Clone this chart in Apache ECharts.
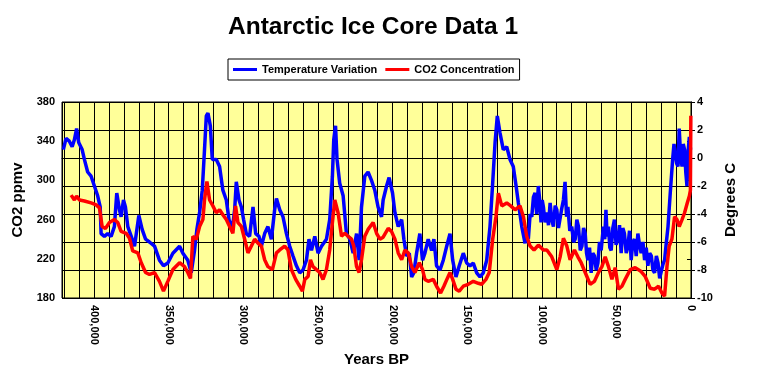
<!DOCTYPE html>
<html>
<head>
<meta charset="utf-8">
<script src="https://cdn.jsdelivr.net/npm/echarts@6/dist/echarts.min.js"></script>
<style>
html,body{margin:0;padding:0;background:#fff;}
#chart{width:762px;height:391px;}
</style>
</head>
<body>
<div id="chart"></div>
<script>
// Years BP in thousands of years
const tempYearsK = [420.6,418.8,416.6,414.7,413.2,411.7,410.3,408.0,406.5,404.3,402.0,399.8,397.6,395.9,395.3,393.1,390.9,388.6,386.4,384.8,383.0,381.9,380.3,379.0,377.4,375.1,372.9,370.0,367.8,365.5,362.9,359.5,356.2,353.5,350.6,347.2,342.7,340.5,337.2,334.9,332.7,331.1,329.3,327.5,326.0,324.8,323.7,322.1,320.8,318.1,315.9,313.7,311.4,309.6,307.4,305.8,304.7,302.9,301.3,299.8,298.0,295.8,293.5,291.7,289.5,287.9,285.7,283.5,281.2,279.0,277.8,275.6,273.4,271.1,268.9,266.7,264.4,262.2,260.0,257.7,256.0,254.3,252.1,249.9,247.6,244.3,242.1,240.3,239.4,238.2,237.2,235.4,233.1,230.9,228.6,226.4,224.1,222.4,220.8,218.6,216.4,214.1,211.9,209.7,207.4,206.3,204.0,202.3,200.0,198.4,196.2,193.9,192.4,190.6,188.8,187.2,185.7,183.9,181.7,179.9,178.3,176.1,173.8,172.3,170.5,168.2,166.0,163.7,161.5,159.7,157.5,155.3,152.6,150.3,148.1,145.9,143.6,141.4,139.2,136.9,134.7,132.9,131.3,129.8,128.0,125.8,123.5,121.3,119.1,117.2,115.7,113.4,111.2,110.1,109.0,107.8,106.7,105.6,104.5,103.4,102.3,101.4,100.5,99.7,98.9,97.8,96.6,95.5,94.4,93.3,92.2,91.0,89.9,88.8,87.7,86.6,85.5,84.4,83.4,82.5,81.2,79.9,78.7,77.6,76.5,75.4,74.2,73.1,72.0,70.9,70.0,69.1,68.0,66.9,65.8,64.7,63.5,62.4,61.3,60.2,58.7,57.8,57.0,56.2,55.3,54.4,53.5,52.4,51.3,50.2,49.0,47.9,46.8,45.7,44.6,43.4,42.3,41.2,40.1,39.0,37.9,36.7,35.6,34.5,33.4,32.2,31.1,30.0,28.9,27.7,26.6,25.5,24.4,23.2,22.1,21.0,19.9,18.8,17.7,16.5,15.4,13.9,12.3,11.4,10.5,9.6,8.7,7.9,7.0,6.0,5.2,4.3,3.5,2.7,1.9,1.1,0.3];
// Temperature variation, degrees C
const tempValues = [0.6,1.4,1.2,0.8,1.3,2.1,1.1,0.6,-0.1,-1.0,-1.3,-2.0,-2.7,-3.5,-5.4,-5.6,-5.4,-5.6,-4.9,-2.5,-3.7,-4.2,-3.0,-3.5,-4.9,-5.6,-6.3,-4.1,-5.1,-5.8,-6.0,-6.3,-7.3,-7.7,-7.5,-6.8,-6.3,-6.8,-7.3,-8.2,-6.6,-5.1,-3.9,-2.3,0.6,3.0,3.2,2.3,-0.1,-0.1,-0.6,-2.3,-3.0,-4.4,-5.1,-3.7,-1.7,-3.0,-3.5,-4.4,-5.4,-5.6,-3.5,-5.4,-5.6,-6.3,-5.4,-4.9,-5.8,-3.7,-2.9,-3.7,-4.2,-5.4,-6.3,-7.0,-7.7,-8.2,-8.0,-7.3,-5.8,-6.6,-5.6,-6.8,-6.3,-5.8,-4.4,-1.3,1.3,2.3,-0.1,-1.8,-2.7,-5.4,-5.8,-6.8,-5.4,-7.3,-3.5,-1.3,-1.0,-1.6,-2.3,-3.5,-4.2,-3.0,-2.0,-1.4,-2.5,-3.9,-4.9,-4.4,-5.8,-7.0,-6.8,-8.5,-8.2,-6.8,-5.4,-7.3,-6.8,-5.8,-6.6,-5.8,-7.7,-8.0,-7.3,-6.3,-5.4,-7.3,-8.5,-7.7,-6.8,-7.5,-7.7,-7.5,-8.2,-8.5,-8.2,-7.3,-4.9,-1.8,1.1,3.0,1.8,0.6,0.8,-0.1,-0.6,-2.0,-3.2,-4.9,-6.1,-5.0,-5.8,-4.0,-4.2,-2.8,-2.5,-4.0,-2.0,-3.0,-4.6,-3.0,-3.5,-4.6,-3.9,-4.8,-3.2,-4.4,-4.9,-3.4,-3.7,-5.0,-5.1,-3.6,-3.0,-1.7,-4.2,-3.5,-5.2,-4.9,-6.0,-5.8,-4.4,-4.9,-6.6,-6.3,-5.0,-5.4,-6.8,-7.3,-6.4,-8.2,-6.8,-7.0,-8.0,-7.5,-6.0,-6.6,-4.9,-5.8,-3.7,-5.6,-4.9,-6.4,-6.6,-5.0,-4.4,-6.2,-5.8,-4.8,-6.8,-5.0,-5.4,-6.8,-6.3,-5.2,-7.3,-6.0,-5.8,-7.0,-5.4,-6.2,-6.8,-6.0,-7.3,-6.4,-7.7,-6.8,-7.0,-8.0,-8.2,-7.0,-7.5,-8.6,-8.5,-7.6,-7.3,-6.0,-4.9,-2.5,-0.1,1.0,1.1,-0.4,-0.6,2.1,0.2,-0.6,1.0,0.6,-1.0,-2.0,0.5,1.5,0.6];

const co2YearsK = [415.4,413.2,411.7,409.8,406.5,402.0,398.6,396.4,394.6,392.4,389.7,386.4,384.1,381.9,378.5,376.3,374.1,370.7,368.4,365.5,362.9,359.5,356.2,353.5,350.6,347.2,342.7,339.4,337.2,335.4,333.8,331.5,329.3,327.1,326.0,324.4,322.6,320.4,318.1,315.9,313.7,311.4,309.2,307.0,305.2,303.6,301.3,299.1,296.9,294.6,292.4,290.2,287.9,285.7,283.5,280.5,277.8,275.6,272.3,270.1,267.8,264.9,262.2,260.4,258.8,256.6,255.0,253.3,251.0,248.8,246.6,244.3,242.1,240.3,238.7,236.5,234.2,232.0,229.8,227.5,226.0,224.1,222.4,220.8,218.6,216.4,213.0,210.7,208.5,206.3,202.9,200.7,198.4,196.2,193.9,191.7,189.5,187.2,185.0,182.1,179.9,178.3,176.1,172.7,170.5,167.8,165.6,163.3,161.5,159.7,157.5,155.3,152.6,149.3,145.9,142.5,140.3,137.4,135.2,132.9,130.7,129.1,126.8,123.5,120.8,117.9,114.6,112.3,110.1,107.8,105.2,102.3,98.9,96.6,93.3,89.9,87.7,85.5,83.2,81.0,78.1,75.8,73.6,70.9,67.6,64.7,62.0,59.7,57.5,55.3,53.0,50.8,48.6,46.3,44.1,40.7,37.4,33.4,30.7,27.3,24.4,21.7,19.5,17.7,16.1,14.6,12.8,11.0,9.4,7.9,6.0,4.3,2.5,1.1,0.4,0.1];
// CO2 concentration, ppmv
const co2Values = [285,280,284,280,279,277,275,272,253,251,257,260,257,248,246,241,228,226,216,206,204,206,197,187,197,209,216,212,206,200,243,240,253,260,280,299,280,274,267,270,265,260,253,246,274,257,253,240,226,233,240,236,233,219,212,209,226,229,233,229,209,199,192,187,199,202,219,212,209,206,199,209,229,257,280,267,243,246,243,240,233,212,206,219,243,250,257,246,240,242,251,248,240,226,219,229,226,212,206,216,209,199,197,199,192,185,192,200,206,199,189,187,192,194,197,195,194,199,206,240,263,287,274,277,274,270,274,263,243,233,229,234,229,229,222,209,222,241,233,219,229,222,216,206,194,197,206,212,222,212,199,211,189,192,199,209,211,207,202,190,189,192,185,182,212,233,240,263,260,253,260,267,277,284,290,366];

const xTickStepK = 10;
const xLabelStepK = 50;
const co2Ticks = {min:180, max:380, interval:40};
const tempTicks = {min:-10, max:4, interval:2};

const zip = (xs, ys) => xs.map((x, i) => [x, ys[i]]);
const FONT = 'Arial, "Liberation Sans", sans-serif';

const chart = echarts.init(document.getElementById('chart'), null, {renderer:'canvas'});
chart.setOption({
  backgroundColor: '#ffffff',
  animation: false,
  title: {
    text: 'Antarctic Ice Core Data 1',
    left: 228,
    top: 15,
    padding: 0,
    textStyle: {fontFamily: FONT, fontSize: 24.5, fontWeight: 'bold', color: '#000'}
  },
  legend: {
    left: 228,
    top: 59,
    padding: [5, 5],
    itemGap: 8,
    itemWidth: 24,
    itemHeight: 3,
    icon: 'rect',
    borderColor: '#000',
    borderWidth: 1,
    backgroundColor: '#fff',
    borderRadius: 0,
    textStyle: {fontFamily: FONT, fontSize: 11, fontWeight: 'bold', color: '#000'},
    data: ['Temperature Variation', 'CO2 Concentration']
  },
  grid: {
    left: 62, right: 71, top: 102, bottom: 93,
    show: true, backgroundColor: '#FFFF99', borderColor: '#000', borderWidth: 1
  },
  xAxis: {
    type: 'value',
    min: 0,
    max: 421.5,
    interval: xTickStepK,
    inverse: true,
    name: 'Years BP',
    nameLocation: 'middle',
    nameGap: 50,
    nameTextStyle: {fontFamily: FONT, fontSize: 15, fontWeight: 'bold', color: '#000'},
    axisLine: {show: true, lineStyle: {color: '#000', width: 1}},
    axisTick: {show: false},
    splitLine: {show: true, lineStyle: {color: '#000', width: 1}},
    axisLabel: {
      rotate: -90,
      margin: 7,
      showMaxLabel: false,
      fontFamily: FONT, fontSize: 11, fontWeight: 'bold', color: '#000',
      formatter: v => (Math.round(v) % xLabelStepK === 0 && v <= 400) ? (Math.round(v) * 1000).toLocaleString('en-US') : ''
    }
  },
  yAxis: [
    {
      type: 'value',
      min: co2Ticks.min, max: co2Ticks.max, interval: co2Ticks.interval,
      position: 'left',
      name: 'CO2 ppmv',
      nameLocation: 'middle',
      nameRotate: 90,
      nameGap: 36,
      nameTextStyle: {fontFamily: FONT, fontSize: 15, fontWeight: 'bold', color: '#000'},
      axisLine: {show: true, lineStyle: {color: '#000'}},
      axisTick: {show: true, length: 4, lineStyle: {color: '#000'}},
      splitLine: {show: false},
      axisLabel: {margin: 7, fontFamily: FONT, fontSize: 11, fontWeight: 'bold', color: '#000'}
    },
    {
      type: 'value',
      min: tempTicks.min, max: tempTicks.max, interval: tempTicks.interval,
      position: 'right',
      name: 'Degrees C',
      nameLocation: 'middle',
      nameRotate: 90,
      nameGap: 30,
      nameTextStyle: {fontFamily: FONT, fontSize: 15, fontWeight: 'bold', color: '#000'},
      axisLine: {show: true, lineStyle: {color: '#000'}},
      axisTick: {show: true, length: 4, lineStyle: {color: '#000'}},
      splitLine: {show: true, lineStyle: {color: '#000', width: 1}},
      axisLabel: {margin: 6, fontFamily: FONT, fontSize: 11, fontWeight: 'bold', color: '#000'}
    }
  ],
  series: [
    {
      name: 'Temperature Variation',
      type: 'line',
      yAxisIndex: 1,
      data: zip(tempYearsK, tempValues),
      showSymbol: false,
      symbol: 'none',
      color: '#0000FF',
      lineStyle: {color: '#0000FF', width: 3.5},
      z: 2
    },
    {
      name: 'CO2 Concentration',
      type: 'line',
      yAxisIndex: 0,
      data: zip(co2YearsK, co2Values),
      showSymbol: false,
      symbol: 'none',
      color: '#FF0000',
      lineStyle: {color: '#FF0000', width: 3.5},
      z: 3
    }
  ]
});
</script>
</body>
</html>
